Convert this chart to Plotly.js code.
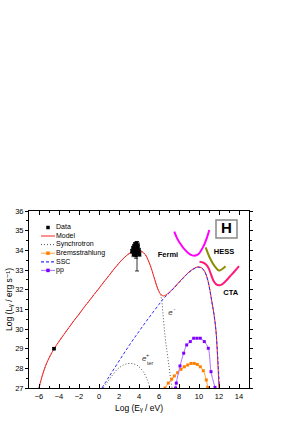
<!DOCTYPE html>
<html>
<head>
<meta charset="utf-8">
<script src="https://cdn.plot.ly/plotly-3.0.1.min.js"></script>
<style>html,body{margin:0;padding:0;background:#fff;}#chart{width:287px;height:421px;}</style>
</head>
<body>
<div id="chart"></div>
<script>
// ---- Data ----
var dataX = [-4.5, 3.3, 3.4, 3.45, 3.5, 3.55, 3.6, 3.65, 3.7, 3.75, 3.8, 3.85, 3.9, 3.95, 4.0, 4.05];
var dataY = [29.0, 33.95, 34.1, 33.8, 34.2, 33.9, 34.3, 34.05, 33.75, 34.35, 33.9, 34.15, 34.25, 33.9, 34.0, 33.8];
var dataErrPlus  = [0.05, 0.1, 0.1, 0.1, 0.1, 0.12, 0.1, 0.1, 0.1, 0.08, 0.55, 0.1, 0.12, 0.1, 0.1, 0.1];
var dataErrMinus = [0.05, 0.1, 0.1, 0.12, 0.1, 0.1, 0.1, 0.12, 0.15, 0.1, 0.95, 0.1, 0.1, 0.12, 0.1, 0.1];

var modelX = [-6, -5.8, -5.5, -5.2, -4.8, -4.5, -4, -3.5, -3, -2.5, -2, -1.5, -1, -0.5, 0, 0.5, 1, 1.5, 2, 2.5, 3, 3.4, 3.8, 4.2, 4.6, 5.0, 5.3, 5.6, 5.9, 6.2, 6.45, 7, 7.5, 8, 8.5, 9, 9.5, 9.9, 10.3, 10.6, 10.9, 11.1, 11.3, 11.5, 11.7, 11.85, 12.0];
var modelY = [27, 27.4, 27.9, 28.3, 28.72, 28.98, 29.37, 29.73, 30.08, 30.43, 30.75, 31.1, 31.42, 31.75, 32.07, 32.4, 32.72, 33.05, 33.35, 33.62, 33.83, 33.96, 34.02, 33.97, 33.8, 33.4, 32.97, 32.47, 32.02, 31.75, 31.68, 31.85, 32.1, 32.38, 32.65, 32.9, 33.08, 33.16, 33.1, 32.9, 32.45, 31.95, 31.35, 30.75, 29.9, 28.6, 27];

var syncX = [-6, -5.8, -5.5, -5.2, -4.8, -4.5, -4, -3.5, -3, -2.5, -2, -1.5, -1, -0.5, 0, 0.5, 1, 1.5, 2, 2.5, 3, 3.4, 3.8, 4.2, 4.6, 5.0, 5.3, 5.6, 5.9, 6.2, 6.4, 6.6, 6.8, 7.0, 7.15, 7.3];
var syncY = [27, 27.4, 27.9, 28.3, 28.72, 28.98, 29.37, 29.73, 30.08, 30.43, 30.75, 31.1, 31.42, 31.75, 32.07, 32.4, 32.72, 33.05, 33.35, 33.62, 33.83, 33.96, 34.02, 33.97, 33.8, 33.4, 32.97, 32.47, 32.0, 31.65, 30.75, 29.65, 28.85, 28.1, 27.5, 27.0];

var syncTerX = [0.43, 0.8, 1.1, 1.45, 1.77, 2.1, 2.43, 2.77, 3.1, 3.45, 3.77, 4.1, 4.43, 4.77, 5.1];
var syncTerY = [27.0, 27.27, 27.49, 27.72, 27.92, 28.06, 28.17, 28.23, 28.25, 28.23, 28.17, 28.03, 27.83, 27.49, 27.0];

var bremsX = [6.6, 6.93, 7.27, 7.53, 7.87, 8.2, 8.53, 8.87, 9.2, 9.53, 9.83, 10.13, 10.43, 10.73, 10.87];
var bremsY = [27.0, 27.25, 27.45, 27.61, 27.78, 27.95, 28.08, 28.17, 28.25, 28.25, 28.2, 28.08, 27.88, 27.41, 27.03];

var sscX = [0.3, 1, 2, 3, 4, 5, 6, 6.45, 7, 7.5, 8, 8.5, 9, 9.5, 9.9, 10.3, 10.6, 10.9, 11.1, 11.3, 11.5, 11.7, 11.88, 12.05];
var sscY = [27, 27.57, 28.37, 29.15, 29.88, 30.58, 31.25, 31.55, 31.82, 32.08, 32.36, 32.63, 32.88, 33.06, 33.14, 33.08, 32.88, 32.43, 31.93, 31.33, 30.73, 29.88, 28.55, 27];

var ppX = [7.66, 7.73, 8.1, 8.47, 8.77, 9.13, 9.47, 9.8, 10.13, 10.53, 10.93, 11.2, 11.6];
var ppY = [27.0, 27.25, 28.12, 28.77, 29.19, 29.36, 29.53, 29.53, 29.53, 29.36, 29.02, 27.83, 27.03];

var fermiX = [7.53, 7.8, 8.1, 8.6, 9.1, 9.53, 9.93, 10.43, 10.77, 11.03];
var fermiY = [34.95, 34.62, 34.36, 34.02, 33.8, 33.73, 33.8, 34.19, 34.61, 35.03];

var hessX = [10.67, 11.1, 11.6, 12.0, 12.33, 12.65];
var hessY = [34.15, 33.6, 33.17, 32.97, 33.05, 33.19];

var ctaX = [10.05, 10.4, 10.7, 10.95, 11.2, 11.45, 11.7, 12.0, 12.3, 12.7, 13.1, 13.5, 14.0];
var ctaY = [33.42, 33.38, 33.28, 33.1, 32.78, 32.45, 32.28, 32.22, 32.27, 32.45, 32.68, 32.9, 33.2];

var xTickVals = [-6, -4, -2, 0, 2, 4, 6, 8, 10, 12, 14];
var yTickVals = [27, 28, 29, 30, 31, 32, 33, 34, 35, 36];

var legendNames = ["Data", "Model", "Synchrotron", "Bremsstrahlung", "SSC", "pp"];
var instrumentLabels = ["Fermi", "HESS", "CTA"];
var panelLabel = "H";
var xTitle = "Log (E\u1D67 / eV)";
var yTitle = "Log (L\u1D67 / erg s\u207B\u00B9)";

// ---- Styles ----
var C = {
  model: "#ff2020", sync: "#555555", bremsLine: "#ffa040", bremsMark: "#ff8000",
  ssc: "#3030ff", ppLine: "#b070ff", ppMark: "#8000ff",
  fermi: "#ff00ff", hess: "#8c8c00", cta: "#ff1a78"
};
var FONT = "Liberation Sans, Arial, DejaVu Sans, sans-serif";

var traces = [
  {x: fermiX, y: fermiY, mode: "lines", line: {color: C.fermi, width: 2, shape: "spline"}},
  {x: hessX, y: hessY, mode: "lines", line: {color: C.hess, width: 2, shape: "spline"}},
  {x: ctaX, y: ctaY, mode: "lines", line: {color: C.cta, width: 2, shape: "spline"}},
  {x: syncX, y: syncY, mode: "lines", line: {color: C.sync, width: 1, dash: "1px,2px", shape: "spline"}},
  {x: syncTerX, y: syncTerY, mode: "lines", line: {color: C.sync, width: 1, dash: "1px,2px", shape: "spline"}},
  {x: bremsX, y: bremsY, mode: "lines+markers", line: {color: C.bremsLine, width: 1, shape: "spline"},
   marker: {color: C.bremsMark, size: 3, symbol: "square"}},
  {x: ppX, y: ppY, mode: "lines+markers", line: {color: C.ppLine, width: 1, shape: "spline"},
   marker: {color: C.ppMark, size: 3, symbol: "square"}},
  {x: modelX, y: modelY, mode: "lines", line: {color: C.model, width: 1, shape: "spline"}},
  {x: sscX, y: sscY, mode: "lines", line: {color: C.ssc, width: 1, dash: "3px,2px", shape: "spline"}},
  {x: dataX, y: dataY, mode: "markers", marker: {color: "#000", size: 3.5, symbol: "square"},
   error_y: {type: "data", symmetric: false, array: dataErrPlus, arrayminus: dataErrMinus,
             color: "#000", thickness: 0.8, width: 2}}
];

// ---- Chart labels (text traces, data coordinates) ----
traces.push({
  x: [6.9, 12.5, 13.17], y: [33.77, 33.93, 31.82],
  mode: "text", text: instrumentLabels, textposition: "middle center",
  textfont: {family: FONT, size: 7.5, color: "#000", weight: "bold"}
});
traces.push({
  x: [12.75], y: [35.09], mode: "text", text: [panelLabel], textposition: "middle center",
  textfont: {family: FONT, size: 15, color: "#000", weight: "bold"}
});
// e- and e+_ter labels: letter, superscript and subscript placed as separate small texts
traces.push({
  x: [7.15, 4.52], y: [30.8, 28.49], mode: "text", text: ["e", "e"], textposition: "middle center",
  textfont: {family: FONT, size: 8, color: "#333", style: "italic"}
});
traces.push({
  x: [7.55, 4.86, 5.12], y: [30.98, 28.66, 28.24], mode: "text", text: ["-", "+", "ter"], textposition: "middle center",
  textfont: {family: FONT, size: 5.5, color: "#333"}
});

// ---- Hand-made compact legend on an overlay axis spanning the plot area (0..1) ----
var PL = 29, PR = 249, PT = 211, PB = 388;
function px(xp) { return (xp - PL) / (PR - PL); }
function py(yp) { return (PB - yp) / (PB - PT); }
var rowY = [227.5, 236, 244.6, 253.2, 261.8, 270.4];
var legStyles = [
  {marker: "#000"},
  {line: C.model, dash: "solid"},
  {line: C.sync, dash: "1px,2px"},
  {line: C.bremsLine, dash: "solid", marker: C.bremsMark},
  {line: C.ssc, dash: "3px,2px"},
  {line: C.ppLine, dash: "solid", marker: C.ppMark}
];
for (var i = 0; i < legendNames.length; i++) {
  var s = legStyles[i], yy = py(rowY[i]);
  if (s.line) {
    traces.push({x: [px(41), px(55)], y: [yy, yy], xaxis: "x2", yaxis: "y2", mode: "lines",
                 line: {color: s.line, width: (i === 4 ? 1.3 : 1), dash: s.dash}});
  }
  if (s.marker) {
    traces.push({x: [px(48)], y: [yy], xaxis: "x2", yaxis: "y2", mode: "markers",
                 marker: {color: s.marker, size: 3.5, symbol: "square"}});
  }
}
traces.push({
  x: legendNames.map(function () { return px(56); }), y: rowY.map(py),
  xaxis: "x2", yaxis: "y2", mode: "text", text: legendNames, textposition: "middle right",
  marker: {size: 1}, textfont: {family: FONT, size: 7, color: "#000"}
});

var shapes = [
  {type: "rect", xref: "x", yref: "y", x0: 11.7, x1: 13.8, y0: 34.63, y1: 35.54,
   line: {color: "#888", width: 1.5}, fillcolor: "rgba(0,0,0,0)", layer: "below"}
];

var layout = {
  width: 287, height: 421,
  margin: {l: PL, r: 287 - PR, t: PT, b: 421 - PB, pad: 0},
  paper_bgcolor: "#fff", plot_bgcolor: "#fff",
  showlegend: false,
  font: {family: FONT, size: 7, color: "#000"},
  xaxis: {
    range: [-7, 15], tickvals: xTickVals, ticks: "inside", ticklen: 4, tickwidth: 1, tickcolor: "#000",
    showline: true, linecolor: "#000", linewidth: 1, mirror: "ticks", showgrid: false, zeroline: false,
    minor: {dtick: 1, tick0: 0, ticks: "inside", ticklen: 2, tickcolor: "#000", showgrid: false},
    tickfont: {family: FONT, size: 7.5}, ticklabelstandoff: 1,
    title: {text: xTitle, font: {family: FONT, size: 8.5}, standoff: 5}
  },
  yaxis: {
    range: [27, 36], tickvals: yTickVals, ticks: "outside", ticklen: 3, tickwidth: 1, tickcolor: "#000",
    showline: true, linecolor: "#000", linewidth: 1, mirror: "ticks", showgrid: false, zeroline: false,
    minor: {dtick: 0.5, tick0: 0, ticks: "outside", ticklen: 2, tickcolor: "#000", showgrid: false},
    tickfont: {family: FONT, size: 7.5},
    title: {text: yTitle, font: {family: FONT, size: 8.5}, standoff: 1}
  },
  xaxis2: {overlaying: "x", range: [0, 1], visible: false, fixedrange: true},
  yaxis2: {overlaying: "y", range: [0, 1], visible: false, fixedrange: true},
  shapes: shapes
};

Plotly.newPlot("chart", traces, layout, {displayModeBar: false, staticPlot: true});
</script>
</body>
</html>
